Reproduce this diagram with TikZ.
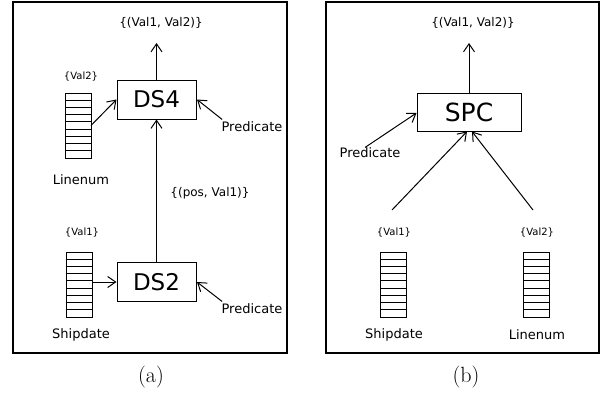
\documentclass[tikz,border=0pt]{standalone}
\usepackage{fontspec}
\newfontfamily\dv{DejaVu Sans}
\usetikzlibrary{arrows.meta,calc}
\begin{document}
\begin{tikzpicture}[x=1pt,y=-1pt,line width=1pt,
  arr/.style={-{Straight Barb[length=8pt,width=11pt,line width=1pt]}},
  opbox/.style={draw,inner sep=0,font=\dv\fontsize{23}{27}\selectfont,minimum width=79pt,minimum height=39pt},
  lab/.style={inner sep=0,font=\dv\fontsize{13}{15}\selectfont},
  mid/.style={inner sep=0,font=\dv\fontsize{12}{14}\selectfont},
  small/.style={inner sep=0,font=\dv\fontsize{10}{12}\selectfont},
  captxt/.style={inner sep=0,font=\fontsize{22}{26}\selectfont},
  frame/.style={line width=1.2pt},
  colbox/.style={draw,minimum width=26pt,minimum height=65pt,inner sep=0,outer sep=0,
    path picture={\foreach \i in {1,...,8}{\draw ($(path picture bounding box.south west)!\i/9!(path picture bounding box.north west)$) -- ($(path picture bounding box.south east)!\i/9!(path picture bounding box.north east)$);}}}
]
\useasboundingbox (0,0) rectangle (603,399);
% ---------- panel (a)
\draw[frame] (13,2) rectangle (287,353);
\node[mid] (outA) at (161,23) {\{(Val1, Val2)\}};
\coordinate (topA) at (156.5,43);
\node[opbox] (DS4) at (156.5,99.5) {DS4};
\node[opbox] (DS2) at (156.5,282) {DS2};
\node[colbox] (colL) at (78,125.5) {};
\node[small] (val2A) at (81,77) {\{Val2\}};
\node[lab] (linA) at (81,180) {Linenum};
\node[colbox] (colS) at (79,284.5) {};
\node[small] (val1A) at (82,233) {\{Val1\}};
\node[lab] (shipA) at (81,335) {Shipdate};
\node[lab] (predA1) at (252,127) {Predicate};
\node[lab] (predA2) at (252,309) {Predicate};
\node[mid] (posA) at (210,193) {\{(pos, Val1)\}};
\draw[arr] (DS4.north) -- (topA);
\draw[arr] (colL.east) -- (DS4.west);
\draw[arr] ([shift={(1,-2)}]predA1.north west) -- ([xshift=0.5]DS4.east);
\draw[arr] (DS2.north) -- (DS4.south);
\draw[arr] (colS.east |- DS2.west) -- (DS2.west);
\draw[arr] ([shift={(1,-2)}]predA2.north west) -- ([xshift=0.5]DS2.east);
\node[captxt] (capA) at (151,377) {(a)};
% ---------- panel (b)
\draw[frame] (326,2) rectangle (599,353);
\node[mid] (outB) at (473,23) {\{(Val1, Val2)\}};
\coordinate (topB) at (469,43);
\node[opbox,minimum width=104pt,minimum height=38pt,font=\dv\fontsize{25}{29}\selectfont] (SPC) at (469,112) {SPC};
\node[lab] (predB) at (370,153) {Predicate};
\node[small] (val1B) at (394,233) {\{Val1\}};
\node[small] (val2B) at (537,233) {\{Val2\}};
\node[colbox] (colB1) at (393.5,284.5) {};
\node[colbox] (colB2) at (536.5,284.5) {};
\node[lab] (shipB) at (394,335) {Shipdate};
\node[lab] (linB) at (537,335) {Linenum};
\coordinate (sL) at (392,210);
\coordinate (sR) at (533,210);
\draw[arr] (SPC.north) -- (topB);
\draw[arr] ([xshift=-5]predB.north) -- ([yshift=-1]SPC.west);
\draw[arr] (sL) -- ([xshift=-2]SPC.south);
\draw[arr] (sR) -- ([xshift=3]SPC.south);
\node[captxt] (capB) at (466,377) {(b)};
\end{tikzpicture}
\end{document}
